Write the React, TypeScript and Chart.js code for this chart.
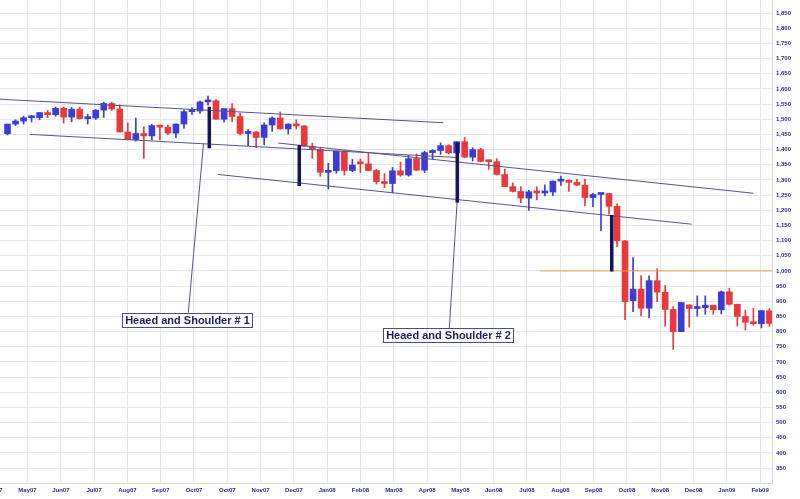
import React, { useEffect, useRef } from 'react';
import { Chart, registerables } from 'chart.js';

Chart.register(...registerables);

// ---- Weekly S&P-style candles (week index 0 = week ending 20 Apr 2007) ----
const opens = [
  1452, 1484, 1494, 1505, 1505, 1522, 1515, 1536, 1507, 1533, 1502, 1504, 1530, 1552, 1534, 1458,
  1433, 1453, 1445, 1479, 1474, 1454, 1484, 1525, 1527, 1557, 1561, 1500, 1535, 1509, 1453, 1458,
  1440, 1481, 1504, 1468, 1484, 1478, 1411, 1401, 1325, 1330, 1395, 1331, 1356, 1353, 1331, 1294,
  1288, 1330, 1316, 1370, 1332, 1390, 1397, 1413, 1389, 1426, 1375, 1400, 1361, 1360, 1318, 1278,
  1262, 1240, 1261, 1257, 1260, 1296, 1298, 1292, 1283, 1242, 1252, 1255, 1213, 1099, 902, 940,
  877, 968, 930, 873, 800, 888, 876, 879, 887, 872, 931, 890, 850, 831, 826, 869,
];
const highs = [
  1484, 1498, 1510, 1513, 1522, 1529, 1540, 1540, 1539, 1540, 1517, 1532, 1556, 1556, 1547, 1488,
  1504, 1475, 1483, 1481, 1481, 1485, 1530, 1538, 1561, 1576, 1565, 1535, 1552, 1520, 1466, 1460,
  1488, 1508, 1524, 1485, 1498, 1479, 1421, 1405, 1355, 1396, 1396, 1368, 1369, 1389, 1335, 1321,
  1341, 1359, 1381, 1386, 1395, 1400, 1422, 1416, 1426, 1440, 1406, 1404, 1366, 1370, 1336, 1290,
  1278, 1266, 1277, 1284, 1297, 1313, 1300, 1302, 1303, 1256, 1256, 1255, 1221, 1100, 1044, 985,
  984, 1007, 952, 882, 896, 888, 918, 918, 887, 934, 943, 891, 871, 877, 870, 876,
];
const lows = [
  1448, 1479, 1484, 1491, 1498, 1505, 1510, 1487, 1492, 1500, 1484, 1499, 1506, 1529, 1458, 1432,
  1428, 1371, 1432, 1432, 1449, 1439, 1470, 1516, 1519, 1546, 1500, 1490, 1492, 1448, 1413, 1406,
  1415, 1460, 1467, 1451, 1468, 1411, 1371, 1312, 1270, 1322, 1316, 1327, 1324, 1330, 1286, 1274,
  1257, 1312, 1312, 1331, 1324, 1370, 1384, 1386, 1387, 1373, 1362, 1359, 1335, 1316, 1278, 1260,
  1225, 1200, 1234, 1247, 1248, 1282, 1262, 1281, 1214, 1212, 1133, 1187, 1080, 839, 866, 852,
  845, 899, 818, 741, 800, 815, 851, 857, 857, 858, 887, 818, 805, 821, 812, 818,
];
const closes = [
  1484, 1494, 1505, 1506, 1522, 1515, 1536, 1507, 1533, 1502, 1503, 1530, 1552, 1534, 1458, 1433,
  1453, 1445, 1479, 1474, 1454, 1484, 1525, 1527, 1557, 1561, 1500, 1535, 1509, 1453, 1458, 1440,
  1481, 1504, 1468, 1484, 1478, 1411, 1401, 1325, 1330, 1395, 1331, 1349, 1353, 1331, 1294, 1288,
  1330, 1316, 1370, 1332, 1390, 1397, 1413, 1389, 1426, 1375, 1400, 1361, 1360, 1318, 1278, 1262,
  1240, 1261, 1257, 1260, 1296, 1298, 1292, 1283, 1242, 1252, 1255, 1213, 1099, 899, 940, 877,
  968, 930, 873, 800, 896, 876, 879, 887, 872, 931, 890, 850, 831, 826, 869, 827,
];

// ---- Axis labels ----
const xTickLabels = [
  'Apr07', 'May07', 'Jun07', 'Jul07', 'Aug07', 'Sep07', 'Oct07', 'Oct07', 'Nov07', 'Dec07',
  'Jan08', 'Feb08', 'Mar08', 'Apr08', 'May08', 'Jun08', 'Jul08', 'Aug08', 'Sep08', 'Oct08',
  'Nov08', 'Dec08', 'Jan09', 'Feb09',
];
const xFirstTickWeek = -1.66;
const xTickStepWeeks = 4.152;
const yTickValues: number[] = [];
for (let v = 350; v <= 1850; v += 50) yTickValues.push(v);

// ---- Annotations (week index, price) ----
const channelLines = [
  [[-0.94, 1566], [54.34, 1488.5]],
  [[2.81, 1450], [55.92, 1374]],
  [[33.73, 1421.6], [93.0, 1256]],
  [[26.25, 1318], [85.31, 1154]],
];
const dropLines = [
  [[25.16, 1541], [25.16, 1404]],
  [[36.38, 1415], [36.38, 1280]],
  [[56.08, 1423], [56.08, 1225]],
  [[75.34, 1184], [75.34, 998]],
];
const leaderLines = [
  [[24.44, 1420], [22.54, 862]],
  [[56.05, 1224], [55.09, 812]],
];
const supportLine = [[66.4, 1000], [95.4, 1000]];
const annotationBoxes = [
  { text: 'Heaed and Shoulder # 1', week: 22.36, value: 839 },
  { text: 'Heaed and Shoulder # 2', week: 54.86, value: 788 },
];

const FONT = '"Liberation Sans", Arial, Helvetica, sans-serif';
const BLUE = '#3b3bd6';
const RED = '#e83a3c';
const GRID = '#e6e6ec';
const AXIS_TEXT = '#2c2c92';

const toPts = (seg: number[][]) => seg.map(([x, y]) => ({ x, y }));

const boxPlugin = {
  id: 'hsBoxes',
  afterDatasetsDraw(chart: any) {
    const { ctx, scales } = chart;
    const xs = scales.x;
    const ys = scales.y;
    ctx.save();
    ctx.font = `bold 11px ${FONT}`;
    for (const b of annotationBoxes) {
      const cx = xs.getPixelForValue(b.week);
      const cy = ys.getPixelForValue(b.value);
      const w = Math.round(ctx.measureText(b.text).width + 5);
      const h = 14;
      const left = Math.round(cx - w / 2) + 0.5;
      const top = Math.round(cy - h / 2) + 0.5;
      ctx.fillStyle = '#ffffff';
      ctx.fillRect(left, top, w, h);
      ctx.strokeStyle = '#4a4a86';
      ctx.lineWidth = 1;
      ctx.strokeRect(left, top, w, h);
      ctx.fillStyle = '#1e1e68';
      ctx.textAlign = 'center';
      ctx.textBaseline = 'middle';
      ctx.fillText(b.text, left + w / 2, top + h / 2 + 0.5);
    }
    ctx.restore();
  },
};

export default function App() {
  const canvasRef = useRef<HTMLCanvasElement | null>(null);

  useEffect(() => {
    document.documentElement.style.overflow = 'hidden';
    document.body.style.overflow = 'hidden';
    const canvas = canvasRef.current;
    if (!canvas) return;

    const bodyData = opens.map((o, i) => ({ x: i, y: [o, closes[i]] }));
    const wickData = lows.map((l, i) => ({ x: i, y: [l, highs[i]] }));
    const colors = opens.map((o, i) => (closes[i] >= o ? BLUE : RED));

    const lineDs = (seg: number[][], color: string, width: number, order: number) => ({
      type: 'line' as const,
      data: toPts(seg),
      borderColor: color,
      borderWidth: width,
      pointRadius: 0,
      fill: false,
      tension: 0,
      borderCapStyle: 'butt',
      order,
    });

    const chart = new Chart(canvas, {
      type: 'bar',
      data: {
        datasets: [
          {
            type: 'bar',
            data: wickData as any,
            backgroundColor: colors,
            barThickness: 1,
            grouped: false,
            order: 6,
          } as any,
          {
            type: 'bar',
            data: bodyData as any,
            backgroundColor: colors,
            barThickness: 6,
            minBarLength: 2,
            grouped: false,
            order: 5,
          } as any,
          ...channelLines.map((s) => lineDs(s, '#55558a', 1, 3)),
          lineDs(supportLine, '#e8a34a', 1, 3),
          ...leaderLines.map((s) => lineDs(s, '#55558a', 1, 2)),
          ...dropLines.map((s) => lineDs(s, '#15155e', 3.5, 1)),
        ] as any,
      },
      options: {
        animation: false,
        responsive: true,
        maintainAspectRatio: false,
        layout: { padding: { left: 10, right: 0, top: 0, bottom: 0 } },
        plugins: {
          legend: { display: false },
          tooltip: { enabled: false },
        },
        scales: {
          x: {
            type: 'linear',
            min: -3.43,
            max: 95.32,
            offset: false,
            grid: { color: GRID, drawTicks: false, offset: false },
            border: { display: true, color: '#d8d8e0' },
            ticks: {
              autoSkip: false,
              maxRotation: 0,
              minRotation: 0,
              padding: 4,
              color: AXIS_TEXT,
              font: { size: 6, weight: 'bold', family: FONT },
              callback: (_v: any, i: number) => xTickLabels[i],
            },
            afterBuildTicks: (s: any) => {
              s.ticks = xTickLabels.map((_, k) => ({ value: xFirstTickWeek + k * xTickStepWeeks }));
            },
            afterFit: (s: any) => {
              s.height = 16;
              s.paddingLeft = 0;
              s.paddingRight = 0;
            },
          },
          y: {
            type: 'linear',
            position: 'right',
            min: 301,
            max: 1893,
            grid: { color: GRID, drawTicks: false },
            border: { display: true, color: '#d8d8e0' },
            ticks: {
              padding: 4,
              color: AXIS_TEXT,
              font: { size: 6, weight: 'bold', family: FONT },
              callback: (v: any) => Number(v).toLocaleString('en-US'),
            },
            afterBuildTicks: (s: any) => {
              s.ticks = yTickValues.map((v) => ({ value: v }));
            },
            afterFit: (s: any) => {
              s.width = 28;
              s.paddingTop = 0;
              s.paddingBottom = 0;
            },
          },
        },
      } as any,
      plugins: [boxPlugin],
    });

    return () => chart.destroy();
  }, []);

  return (
    <div
      style={{
        position: 'absolute',
        left: -30,
        top: 0,
        width: 830,
        height: 499,
        background: '#ffffff',
      }}
    >
      <canvas ref={canvasRef} />
    </div>
  );
}
